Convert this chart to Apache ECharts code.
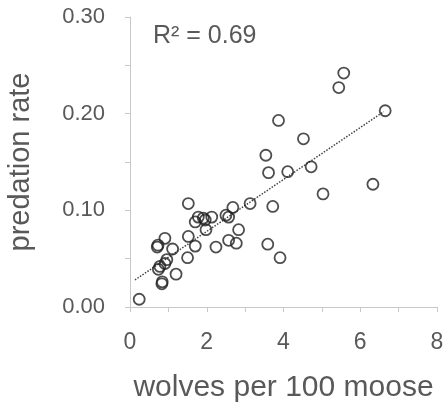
<!DOCTYPE html>
<html>
<head>
<meta charset="utf-8">
<script src="https://cdn.jsdelivr.net/npm/echarts@6/dist/echarts.min.js"></script>
<style>
  html, body { margin: 0; padding: 0; background: #fff; }
  #chart { width: 446px; height: 402px; }
</style>
</head>
<body>
<div id="chart"></div>
<script>
// --- Data ---
const wolves = [
  0.24, 0.83, 0.84, 1.20, 0.74, 0.91, 0.71, 0.73, 0.91, 1.11, 0.96, 0.78,
  1.52, 1.52, 1.50, 1.70, 1.78, 1.70, 1.91, 1.98, 2.13, 2.24, 2.50, 2.57,
  2.68, 2.57, 2.77, 2.83, 3.13, 1.96, 3.54, 3.61, 3.72, 3.59, 3.91, 3.87,
  4.11, 4.52, 4.72, 5.03, 5.44, 5.57, 6.33, 6.65
];
const predation = [
  0.008, 0.024, 0.026, 0.034, 0.039, 0.045, 0.062, 0.064, 0.071, 0.060, 0.049, 0.042,
  0.107, 0.073, 0.051, 0.063, 0.093, 0.088, 0.092, 0.080, 0.093, 0.062, 0.095, 0.093,
  0.103, 0.069, 0.066, 0.080, 0.107, 0.090, 0.157, 0.139, 0.104, 0.065, 0.051, 0.193,
  0.140, 0.174, 0.145, 0.117, 0.227, 0.242, 0.127, 0.203
];
const trendX = [0.13, 6.61];
const trendY = [0.028, 0.202];
const r2Label = 'R\u00B2 = 0.69';

const chart = echarts.init(document.getElementById('chart'));

const axisGray = '#c8c8c8';
const textGray = '#595959';
const font = 'Liberation Sans';

const option = {
  animation: false,
  grid: { left: 130, right: 9, top: 17, bottom: 95, containLabel: false, outerBoundsMode: 'none' },
  xAxis: {
    type: 'value',
    min: 0,
    max: 8,
    interval: 1,
    name: 'wolves per 100 moose',
    nameLocation: 'middle',
    nameGap: 66,
    nameTextStyle: { color: textGray, fontSize: 30, fontFamily: font },
    axisLine: { lineStyle: { color: axisGray, width: 1 } },
    axisTick: { show: true, length: 5, lineStyle: { color: axisGray } },
    axisLabel: {
      color: textGray, fontSize: 23, fontFamily: font, margin: 24,
      formatter: v => (v % 2 === 0 ? String(v) : '')
    },
    splitLine: { show: false }
  },
  yAxis: {
    type: 'value',
    min: 0,
    max: 0.3,
    interval: 0.05,
    name: 'predation rate',
    nameLocation: 'middle',
    nameGap: 95,
    nameTextStyle: { color: textGray, fontSize: 29, fontFamily: font },
    axisLine: { show: true, lineStyle: { color: axisGray, width: 1 } },
    axisTick: { show: true, length: 5, lineStyle: { color: axisGray } },
    axisLabel: {
      color: textGray, fontSize: 22, fontFamily: font, margin: 25,
      formatter: v => (Math.round(v * 100) % 10 === 0 ? v.toFixed(2) : '')
    },
    splitLine: { show: false }
  },
  graphic: [
    {
      type: 'text',
      left: 153,
      top: 24,
      style: { text: r2Label, fill: textGray, fontSize: 25, fontFamily: font }
    }
  ],
  series: [
    {
      type: 'line',
      data: trendX.map((x, i) => [x, trendY[i]]),
      symbol: 'none',
      lineStyle: { color: '#444', width: 1.5, type: 'dotted' },
      z: 1
    },
    {
      type: 'scatter',
      data: wolves.map((x, i) => [x, predation[i]]),
      symbol: 'circle',
      symbolSize: 11,
      itemStyle: { color: 'rgba(255,255,255,0)', borderColor: '#222', borderWidth: 1.8 },
      z: 2
    }
  ]
};

chart.setOption(option);
</script>
</body>
</html>
